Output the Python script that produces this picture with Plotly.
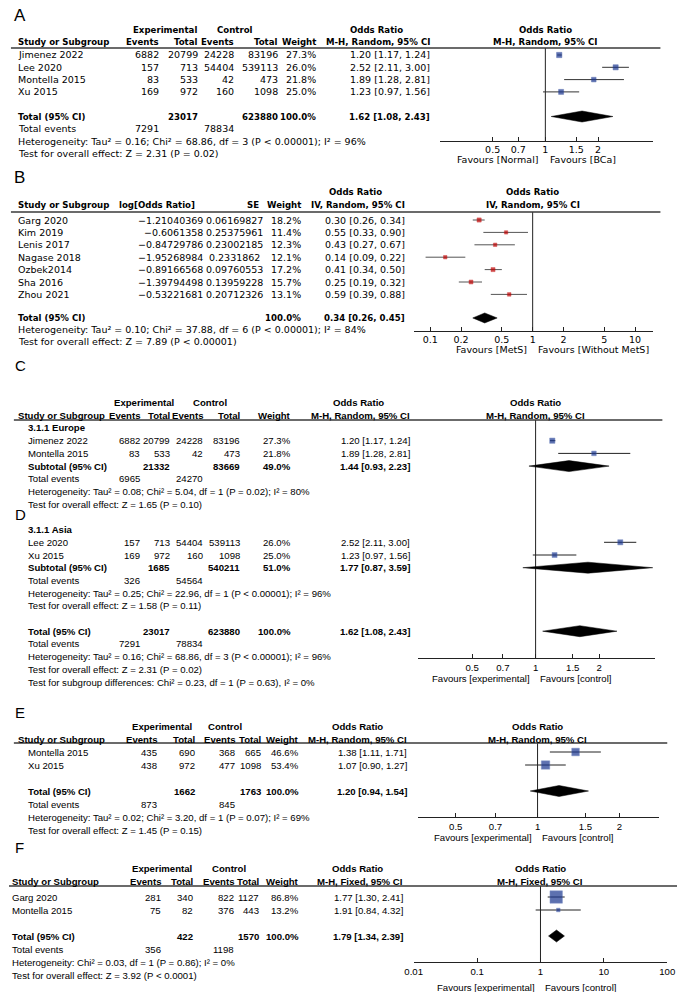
import plotly.graph_objects as go

W, H = 685, 992

# ======================= DATA =======================
# ---- Panel A ----
A_study = ["Jimenez 2022", "Lee 2020", "Montella 2015", "Xu 2015"]
A_exp_ev = [6882, 157, 83, 169]
A_exp_n = [20799, 713, 533, 972]
A_ctl_ev = [24228, 54404, 42, 160]
A_ctl_n = [83196, 539113, 473, 1098]
A_weight = [27.3, 26.0, 21.8, 25.0]
A_or = [1.20, 2.52, 1.89, 1.23]
A_lo = [1.17, 2.11, 1.28, 0.97]
A_hi = [1.24, 3.00, 2.81, 1.56]
A_total_n = [23017, 623880]
A_total_ev = [7291, 78834]
A_pool = [1.62, 1.08, 2.43]
A_stats = ["Heterogeneity: Tau² = 0.16; Chi² = 68.86, df = 3 (P < 0.00001); I² = 96%",
           "Test for overall effect: Z = 2.31 (P = 0.02)"]
A_ticks = [0.5, 0.7, 1, 1.5, 2]
A_favours = ["Favours [Normal]", "Favours [BCa]"]

# ---- Panel B ----
B_study = ["Garg 2020", "Kim 2019", "Lenis 2017", "Nagase 2018", "Ozbek2014", "Sha 2016", "Zhou 2021"]
B_logor = [-1.21040369, -0.6061358, -0.84729786, -1.95268984, -0.89166568, -1.39794498, -0.53221681]
B_se = [0.06169827, 0.25375961, 0.23002185, 0.2331862, 0.09760553, 0.13959228, 0.20712326]
B_weight = [18.2, 11.4, 12.3, 12.1, 17.2, 15.7, 13.1]
B_or = [0.30, 0.55, 0.43, 0.14, 0.41, 0.25, 0.59]
B_lo = [0.26, 0.33, 0.27, 0.09, 0.34, 0.19, 0.39]
B_hi = [0.34, 0.90, 0.67, 0.22, 0.50, 0.32, 0.88]
B_pool = [0.34, 0.26, 0.45]
B_stats = ["Heterogeneity: Tau² = 0.10; Chi² = 37.88, df = 6 (P < 0.00001); I² = 84%",
           "Test for overall effect: Z = 7.89 (P < 0.00001)"]
B_ticks = [0.1, 0.2, 0.5, 1, 2, 5, 10]
B_favours = ["Favours [MetS]", "Favours [Without MetS]"]

# ---- Panels C / D (subgroups) ----
CD_subgroups = ["3.1.1 Europe", "3.1.1 Asia"]
CD_study = ["Jimenez 2022", "Montella 2015", "Lee 2020", "Xu 2015"]
CD_group = [0, 0, 1, 1]
CD_exp_ev = [6882, 83, 157, 169]
CD_exp_n = [20799, 533, 713, 972]
CD_ctl_ev = [24228, 42, 54404, 160]
CD_ctl_n = [83196, 473, 539113, 1098]
CD_weight = [27.3, 21.8, 26.0, 25.0]
CD_or = [1.20, 1.89, 2.52, 1.23]
CD_lo = [1.17, 1.28, 2.11, 0.97]
CD_hi = [1.24, 2.81, 3.00, 1.56]
CD_sub_exp_n = [21332, 1685]
CD_sub_ctl_n = [83669, 540211]
CD_sub_exp_ev = [6965, 326]
CD_sub_ctl_ev = [24270, 54564]
CD_sub_weight = [49.0, 51.0]
CD_sub_or = [1.44, 1.77]
CD_sub_lo = [0.93, 0.87]
CD_sub_hi = [2.23, 3.59]
CD_sub_stats = [["Heterogeneity: Tau² = 0.08; Chi² = 5.04, df = 1 (P = 0.02); I² = 80%",
                 "Test for overall effect: Z = 1.65 (P = 0.10)"],
                ["Heterogeneity: Tau² = 0.25; Chi² = 22.96, df = 1 (P < 0.00001); I² = 96%",
                 "Test for overall effect: Z = 1.58 (P = 0.11)"]]
CD_total_n = [23017, 623880]
CD_total_ev = [7291, 78834]
CD_pool = [1.62, 1.08, 2.43]
CD_stats = ["Heterogeneity: Tau² = 0.16; Chi² = 68.86, df = 3 (P < 0.00001); I² = 96%",
            "Test for overall effect: Z = 2.31 (P = 0.02)",
            "Test for subgroup differences: Chi² = 0.23, df = 1 (P = 0.63), I² = 0%"]
CD_ticks = [0.5, 0.7, 1, 1.5, 2]
CD_favours = ["Favours [experimental]", "Favours [control]"]

# ---- Panel E ----
E_study = ["Montella 2015", "Xu 2015"]
E_exp_ev = [435, 438]
E_exp_n = [690, 972]
E_ctl_ev = [368, 477]
E_ctl_n = [665, 1098]
E_weight = [46.6, 53.4]
E_or = [1.38, 1.07]
E_lo = [1.11, 0.90]
E_hi = [1.71, 1.27]
E_total_n = [1662, 1763]
E_total_ev = [873, 845]
E_pool = [1.20, 0.94, 1.54]
E_stats = ["Heterogeneity: Tau² = 0.02; Chi² = 3.20, df = 1 (P = 0.07); I² = 69%",
           "Test for overall effect: Z = 1.45 (P = 0.15)"]
E_ticks = [0.5, 0.7, 1, 1.5, 2]
E_favours = ["Favours [experimental]", "Favours [control]"]

# ---- Panel F ----
F_study = ["Garg 2020", "Montella 2015"]
F_exp_ev = [281, 75]
F_exp_n = [340, 82]
F_ctl_ev = [822, 376]
F_ctl_n = [1127, 443]
F_weight = [86.8, 13.2]
F_or = [1.77, 1.91]
F_lo = [1.30, 0.84]
F_hi = [2.41, 4.32]
F_total_n = [422, 1570]
F_total_ev = [356, 1198]
F_pool = [1.79, 1.34, 2.39]
F_stats = ["Heterogeneity: Chi² = 0.03, df = 1 (P = 0.86); I² = 0%",
           "Test for overall effect: Z = 3.92 (P < 0.0001)"]
F_ticks = [0.01, 0.1, 1, 10, 100]
F_favours = ["Favours [experimental]", "Favours [control]"]

# ======================= STYLE / LAYOUT =======================
F_AB = "DejaVu Sans"
F_CF = "Liberation Sans"
INK = "#000000"
BLUE = "#1a3690"
BLUE_EDGE = "#4560ad"
RED = "#c00000"

# text styles: (family, regular size, bold size)
ST_AB = (F_AB, 9.5, 8.6)
ST_CF = (F_CF, 9.6, 9.6)

ann = []
shapes = []
axes = {}
fig = go.Figure()


def T(x, y, s, anchor="left", st=ST_CF, bold=False, size=None, color=INK):
    s = s.replace("<", "&lt;")
    fam, rs, bs = st
    sz = size if size is not None else (bs if bold else rs)
    if bold:
        s = "<b>" + s + "</b>"
    ann.append(dict(x=x / W, y=1 - y / H, xref="paper", yref="paper", text=s,
                    showarrow=False, xanchor=anchor, yanchor="middle", borderpad=0,
                    font=dict(family=fam, size=sz, color=color)))


def hline(x0, x1, y, color="#3a3a3a", width=1.3):
    shapes.append(dict(type="line", xref="paper", yref="paper", x0=x0 / W, x1=x1 / W,
                       y0=1 - y / H, y1=1 - y / H, line=dict(color=color, width=width)))


def fmt_or(o, l, h):
    return f"{o:.2f} [{l:.2f}, {h:.2f}]"


def fmt_w(w):
    return f"{w:.1f}%"


def box_size(w):
    return 2 + 0.12 * w


def Y(cfg, r):
    return cfg["row0"] + r * cfg["pitch"]


def forest(k, cfg, st, ticks, favours, est, pools, mcol, medge, cicol, dh):
    xs = "x" if k == 1 else f"x{k}"
    ys = "y" if k == 1 else f"y{k}"
    xa = "xaxis" if k == 1 else f"xaxis{k}"
    ya = "yaxis" if k == 1 else f"yaxis{k}"
    p = cfg["pitch"]
    r_bot = (cfg["axis"] - cfg["row0"]) / p
    r_top = (cfg["line"] - cfg["row0"]) / p
    lr0 = (cfg["ax0"] - cfg["null"]) / cfg["dec"]
    lr1 = (cfg["ax1"] - cfg["null"]) / cfg["dec"]
    axes[xa] = dict(type="log", range=[lr0, lr1], domain=[cfg["ax0"] / W, cfg["ax1"] / W],
                    anchor=ys, showgrid=False, zeroline=False, showline=True,
                    linecolor="#222", linewidth=1, ticks="inside", ticklen=4,
                    tickcolor="#222", tickwidth=1, tickmode="array", tickvals=ticks,
                    ticktext=[f"{t:g}" for t in ticks],
                    tickfont=dict(family=st[0], size=st[1], color=INK), fixedrange=True)
    axes[ya] = dict(domain=[1 - cfg["axis"] / H, 1 - cfg["line"] / H], range=[r_bot, r_top],
                    visible=False, anchor=xs, fixedrange=True)
    fig.add_trace(go.Scatter(x=[1, 1], y=[r_bot, r_top], mode="lines",
                             line=dict(color="#222", width=1), xaxis=xs, yaxis=ys,
                             hoverinfo="skip"))
    cx, cy = [], []
    for r, o, l, h, w in est:
        cx += [l, h, None]
        cy += [r, r, None]
    fig.add_trace(go.Scatter(x=cx, y=cy, mode="lines", line=dict(color=cicol, width=1),
                             xaxis=xs, yaxis=ys, hoverinfo="skip"))
    fig.add_trace(go.Scatter(x=[e[1] for e in est], y=[e[0] for e in est], mode="markers",
                             marker=dict(symbol="square", size=[box_size(e[4]) for e in est],
                                         color=mcol, line=dict(color=medge, width=0.5)),
                             xaxis=xs, yaxis=ys, hoverinfo="skip"))
    hh = dh / p
    for r, o, l, h in pools:
        fig.add_trace(go.Scatter(x=[l, o, h, o, l], y=[r, r - hh, r, r + hh, r], mode="lines",
                                 fill="toself", fillcolor="black",
                                 line=dict(color="black", width=0.5),
                                 xaxis=xs, yaxis=ys, hoverinfo="skip"))
    T(cfg["null"] - 5, cfg["fav"], favours[0], "right", st)
    T(cfg["null"] + 4, cfg["fav"], favours[1], "left", st)


def mh_header(cfg, cols, st, method):
    T(cols["exp_c"], cfg["h1"], "Experimental", "center", st, True)
    T(cols["ctl_c"], cfg["h1"], "Control", "center", st, True)
    T(cols["orh_c"], cfg["h1"], "Odds Ratio", "center", st, True)
    T(cfg["null"], cfg["h1"], "Odds Ratio", "center", st, True)
    T(cols["hdr"], cfg["h2"], "Study or Subgroup", "left", st, True)
    for key, lab in (("ev_e", "Events"), ("n_e", "Total"), ("ev_c", "Events"),
                     ("n_c", "Total"), ("w", "Weight")):
        T(cols[key], cfg["h2"], lab, "right", st, True)
    T(cols["or"], cfg["h2"], method, "right", st, True)
    T(cfg["null"], cfg["h2"], method, "center", st, True)
    hline(cfg["lx0"], cfg["lx1"], cfg["line"])


def mh_study(cfg, cols, st, r, name, ee, en, ce, cn, w, o, l, h):
    y = Y(cfg, r)
    T(cols["name"], y, name, "left", st)
    T(cols["ev_e"], y, str(ee), "right", st)
    T(cols["n_e"], y, str(en), "right", st)
    T(cols["ev_c"], y, str(ce), "right", st)
    T(cols["n_c"], y, str(cn), "right", st)
    T(cols["w"], y, fmt_w(w), "right", st)
    T(cols["or"], y, fmt_or(o, l, h), "right", st)


def mh_total(cfg, cols, st, r, label, n_e, n_c, w, pool, ev, stats):
    y = Y(cfg, r)
    T(cols["name"], y, label, "left", st, True)
    T(cols["n_e"], y, str(n_e), "right", st, True)
    T(cols["n_c"], y, str(n_c), "right", st, True)
    T(cols["w"], y, fmt_w(w), "right", st, True)
    T(cols["or"], y, fmt_or(*pool), "right", st, True)
    y = Y(cfg, r + 1)
    T(cols["name"], y, "Total events", "left", st)
    T(cols["ev_e"], y, str(ev[0]), "right", st)
    T(cols["ev_c"], y, str(ev[1]), "right", st)
    for i, s in enumerate(stats):
        T(cols["name"], Y(cfg, r + 2 + i), s, "left", st)


# ---------------- Panel A ----------------
cA = dict(h1=29.5, h2=41.5, line=48, row0=55, pitch=12.3, axis=141, ax0=442, ax1=660,
          null=550, dec=179.6, fav=159, lx0=2, lx1=668)
colA = {"hdr": 8, "name": 8, "ev_e": 155, "n_e": 195, "ev_c": 232, "n_c": 277, "w": 316,
        "or": 433, "exp_c": 160, "ctl_c": 232, "orh_c": 377}
T(4, 15, "A", "left", ST_CF, size=17)
mh_header(cA, colA, ST_AB, "M-H, Random, 95% CI")
for i in range(len(A_study)):
    mh_study(cA, colA, ST_AB, i, A_study[i], A_exp_ev[i], A_exp_n[i], A_ctl_ev[i],
             A_ctl_n[i], A_weight[i], A_or[i], A_lo[i], A_hi[i])
mh_total(cA, colA, ST_AB, 5, "Total (95% CI)", A_total_n[0], A_total_n[1], 100.0,
         A_pool, A_total_ev, A_stats)
forest(1, cA, ST_AB, A_ticks, A_favours,
       [(i, A_or[i], A_lo[i], A_hi[i], A_weight[i]) for i in range(len(A_study))],
       [(5, *A_pool)], BLUE, BLUE, "#333", 5.5)

# ---------------- Panel B ----------------
cB = dict(h1=192, h2=205, line=212, row0=220, pitch=12.4, axis=331, ax0=415, ax1=660,
          null=537, dec=105, fav=350, lx0=2, lx1=668)
colB = {"name": 8, "log_h": 112, "log": 200, "se_h": 257, "se_c": 231, "w": 300,
        "or": 407, "orh_c": 355}
T(4, 177, "B", "left", ST_CF, size=17)
T(colB["orh_c"], cB["h1"], "Odds Ratio", "center", ST_AB, True)
T(cB["null"], cB["h1"], "Odds Ratio", "center", ST_AB, True)
T(colB["name"], cB["h2"], "Study or Subgroup", "left", ST_AB, True)
T(colB["log_h"], cB["h2"], "log[Odds Ratio]", "left", ST_AB, True)
T(colB["se_h"], cB["h2"], "SE", "right", ST_AB, True)
T(colB["w"], cB["h2"], "Weight", "right", ST_AB, True)
T(colB["or"], cB["h2"], "IV, Random, 95% CI", "right", ST_AB, True)
T(cB["null"], cB["h2"], "IV, Random, 95% CI", "center", ST_AB, True)
hline(cB["lx0"], cB["lx1"], cB["line"])
for i in range(len(B_study)):
    y = Y(cB, i)
    T(colB["name"], y, B_study[i], "left", ST_AB)
    T(colB["log"], y, str(B_logor[i]).replace("-", "\u2212"), "right", ST_AB)
    T(colB["se_c"], y, str(B_se[i]), "center", ST_AB)
    T(colB["w"], y, fmt_w(B_weight[i]), "right", ST_AB)
    T(colB["or"], y, fmt_or(B_or[i], B_lo[i], B_hi[i]), "right", ST_AB)
yT = Y(cB, 7.9)
T(colB["name"], yT, "Total (95% CI)", "left", ST_AB, True)
T(colB["w"], yT, "100.0%", "right", ST_AB, True)
T(colB["or"], yT, fmt_or(*B_pool), "right", ST_AB, True)
T(colB["name"], Y(cB, 8.85), B_stats[0], "left", ST_AB)
T(colB["name"], Y(cB, 9.8), B_stats[1], "left", ST_AB)
forest(2, cB, ST_AB, B_ticks, B_favours,
       [(i, B_or[i], B_lo[i], B_hi[i], B_weight[i]) for i in range(len(B_study))],
       [(7.9, *B_pool)], RED, RED, "#555", 5)

# ---------------- Panels C / D ----------------
cC = dict(h1=402, h2=415, line=420, row0=428, pitch=12.7, axis=658, ax0=419, ax1=662,
          null=540, dec=216.4, fav=678, lx0=5, lx1=670)
colC = {"hdr": 8, "name": 18, "ev_e": 135, "n_e": 166, "ev_c": 200, "n_c": 238, "w": 290,
        "or": 412, "exp_c": 138, "ctl_c": 206, "orh_c": 358}
T(5, 365, "C", "left", ST_CF, size=15)
T(5, 514, "D", "left", ST_CF, size=15)
mh_header(cC, colC, ST_CF, "M-H, Random, 95% CI")
est_cd, pools_cd = [], []
for g, sg in enumerate(CD_subgroups):
    base = 8 * g
    T(colC["name"], Y(cC, base), sg, "left", ST_CF, True)
    members = [i for i in range(len(CD_study)) if CD_group[i] == g]
    for j, i in enumerate(members):
        r = base + 1 + j
        mh_study(cC, colC, ST_CF, r, CD_study[i], CD_exp_ev[i], CD_exp_n[i],
                 CD_ctl_ev[i], CD_ctl_n[i], CD_weight[i], CD_or[i], CD_lo[i], CD_hi[i])
        est_cd.append((r, CD_or[i], CD_lo[i], CD_hi[i], CD_weight[i]))
    rs = base + 1 + len(members)
    mh_total(cC, colC, ST_CF, rs, "Subtotal (95% CI)", CD_sub_exp_n[g], CD_sub_ctl_n[g],
             CD_sub_weight[g], (CD_sub_or[g], CD_sub_lo[g], CD_sub_hi[g]),
             (CD_sub_exp_ev[g], CD_sub_ctl_ev[g]), CD_sub_stats[g])
    pools_cd.append((rs, CD_sub_or[g], CD_sub_lo[g], CD_sub_hi[g]))
mh_total(cC, colC, ST_CF, 16, "Total (95% CI)", CD_total_n[0], CD_total_n[1], 100.0,
         CD_pool, CD_total_ev, CD_stats)
pools_cd.append((16, *CD_pool))
forest(3, cC, ST_CF, CD_ticks, CD_favours, est_cd, pools_cd, BLUE, BLUE_EDGE, "#222", 5.5)

# ---------------- Panel E ----------------
cE = dict(h1=726, h2=739, line=743, row0=752, pitch=13, axis=817, ax0=419, ax1=667,
          null=542, dec=278.6, fav=837, lx0=5, lx1=675)
colE = {"hdr": 8, "name": 18, "ev_e": 153, "n_e": 192, "ev_c": 233, "n_c": 259, "w": 298,
        "or": 409, "exp_c": 157, "ctl_c": 222, "orh_c": 357}
T(5, 712, "E", "left", ST_CF, size=15)
mh_header(cE, colE, ST_CF, "M-H, Random, 95% CI")
for i in range(len(E_study)):
    mh_study(cE, colE, ST_CF, i, E_study[i], E_exp_ev[i], E_exp_n[i], E_ctl_ev[i],
             E_ctl_n[i], E_weight[i], E_or[i], E_lo[i], E_hi[i])
mh_total(cE, colE, ST_CF, 3, "Total (95% CI)", E_total_n[0], E_total_n[1], 100.0,
         E_pool, E_total_ev, E_stats)
forest(4, cE, ST_CF, E_ticks, E_favours,
       [(i, E_or[i], E_lo[i], E_hi[i], E_weight[i]) for i in range(len(E_study))],
       [(3, *E_pool)], BLUE, BLUE_EDGE, "#222", 5.5)

# ---------------- Panel F ----------------
cF = dict(h1=868, h2=881, line=886, row0=897, pitch=13, axis=962, ax0=415, ax1=675,
          null=545, dec=65, fav=987, lx0=0, lx1=685)
colF = {"hdr": 2, "name": 2, "ev_e": 157, "n_e": 190, "ev_c": 232, "n_c": 257, "w": 298,
        "or": 405, "exp_c": 157, "ctl_c": 226, "orh_c": 357}
T(5, 847, "F", "left", ST_CF, size=15)
mh_header(cF, colF, ST_CF, "M-H, Fixed, 95% CI")
for i in range(len(F_study)):
    mh_study(cF, colF, ST_CF, i, F_study[i], F_exp_ev[i], F_exp_n[i], F_ctl_ev[i],
             F_ctl_n[i], F_weight[i], F_or[i], F_lo[i], F_hi[i])
mh_total(cF, colF, ST_CF, 3, "Total (95% CI)", F_total_n[0], F_total_n[1], 100.0,
         F_pool, F_total_ev, F_stats)
forest(5, cF, ST_CF, F_ticks, F_favours,
       [(i, F_or[i], F_lo[i], F_hi[i], F_weight[i]) for i in range(len(F_study))],
       [(3, *F_pool)], BLUE, BLUE_EDGE, "#222", 6)

fig.update_layout(width=W, height=H, autosize=False, margin=dict(l=0, r=0, t=0, b=0),
                  paper_bgcolor="white", plot_bgcolor="rgba(0,0,0,0)", showlegend=False,
                  annotations=ann, shapes=shapes, **axes)
fig.write_html("out.html", config={"displayModeBar": False},
               post_script="document.body.style.margin='0';document.body.style.padding='0';")
